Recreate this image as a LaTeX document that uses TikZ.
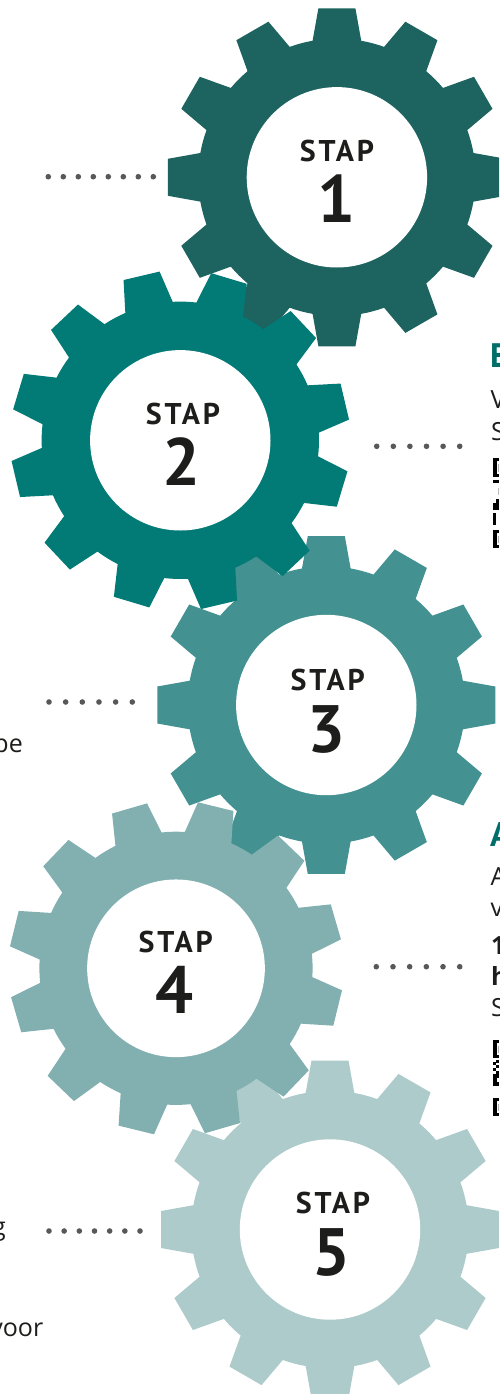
\documentclass[tikz,border=0pt]{standalone}
\usepackage{fontspec}
\setmainfont{Open Sans}
\newfontfamily\ptsans{PT Sans}
\definecolor{gearA}{HTML}{1D635F}
\definecolor{gearB}{HTML}{027A76}
\definecolor{gearC}{HTML}{439191}
\definecolor{gearD}{HTML}{82B0B0}
\definecolor{gearE}{HTML}{AECBCB}
\definecolor{ink}{HTML}{1D1D1B}
\definecolor{dotgrey}{HTML}{58585A}
\definecolor{headteal}{HTML}{006F6A}
\tikzset{
  staplabel/.style={anchor=base,inner sep=0pt,text=ink,font=\ptsans\bfseries\fontsize{30}{30}\selectfont\addfontfeature{LetterSpace=9}},
  stepnum/.style={anchor=base,inner sep=0pt,text=ink,font=\ptsans\bfseries\fontsize{67}{67}\selectfont},
  bodytext/.style={inner sep=0pt,text=ink,font=\fontsize{25}{25}\selectfont},
  bodyright/.style={bodytext,anchor=base east},
  bodyleft/.style={bodytext,anchor=base west},
  boldleft/.style={bodyleft,font=\bfseries\fontsize{25}{25}\selectfont},
  headleft/.style={anchor=base west,inner sep=0pt,text=headteal,font=\ptsans\bfseries\fontsize{34}{34}\selectfont},
}
% centre x, centre y, rotation, scale, colour
\newcommand{\gearshape}[5]{%
  \begin{scope}[shift={(#1,#2)},scale=#4]
    \fill[#5] (#3-10.1:138.7pt)
      foreach \a in {0,30,...,330} {
        -- (#3+\a-10.1:138.7pt) -- (#3+\a-6.25:170pt) -- (#3+\a+6.25:170pt) -- (#3+\a+10.1:138.7pt)
        arc[start angle=#3+\a+10.1,end angle=#3+\a+19.9,radius=138.7pt]
      } -- cycle;
    \fill[white] (0pt,0pt) circle[radius=90.2pt];
  \end{scope}}
% x first, x last, count, y
\newcommand{\dotrow}[4]{%
  \foreach \i in {1,...,#3} {
    \pgfmathsetmacro{\xx}{#1+(\i-1)*(#2-#1)/(#3-1)}
    \fill[dotgrey] (\xx,#4) circle[radius=2.8pt];
  }}
\begin{document}
\begin{tikzpicture}[x=1pt,y=-1pt]
\useasboundingbox (0,0) rectangle (499,1394);
\clip (0,0) rectangle (499,1394);
\fill[white] (0,0) rectangle (499,1394);

\gearshape{336.9}{177.3}{0}{1}{gearA}
\gearshape{326.3}{705}{0}{1}{gearC}
\gearshape{330}{1229.5}{0}{1}{gearE}
\gearshape{180.3}{440.3}{13.25}{1}{gearB}
\gearshape{176}{968.3}{16.2}{0.985}{gearD}

\node[staplabel] (s1) at (337,161) {STAP};
\node[stepnum] (n1) at (336,222.7) {1};
\node[staplabel] (s2) at (183,424) {STAP};
\node[stepnum] (n2) at (181,485.7) {2};
\node[staplabel] (s3) at (327.7,690.7) {STAP};
\node[stepnum] (n3) at (326,752) {3};
\node[staplabel] (s4) at (175.7,952.3) {STAP};
\node[stepnum] (n4) at (174,1013.3) {4};
\node[staplabel] (s5) at (333,1213.3) {STAP};
\node[stepnum] (n5) at (331,1275.7) {5};

\dotrow{48.3}{153.3}{8}{176.7}
\dotrow{376.7}{459.7}{6}{446.3}
\dotrow{49}{132.3}{6}{702}
\dotrow{376.3}{459.7}{6}{966.7}
\dotrow{49}{140}{7}{1231}

\node[bodyright] (tpe) at (23,752.5) {pe};
\node[bodyright] (tg) at (6,1235.5) {g};
\node[bodyright] (tvoor) at (43.5,1336) {voor};

\node[headleft] (he) at (490,367.3) {E};
\node[bodyleft] (tv1) at (490.5,408) {V};
\node[bodyleft] (ts1) at (491,440) {S};

\node[headleft] (ha) at (490,846.7) {A};
\node[bodyleft] (ta) at (490.5,885) {A};
\node[bodyleft] (tv2) at (490.5,916) {v};
\node[boldleft] (t1) at (491,954) {1};
\node[boldleft] (th) at (491,985) {h};
\node[bodyleft] (ts2) at (491,1016.7) {S};

% QR fragments, upper
\fill[black] (493.3,458) rectangle (499,477);
\fill[white] (496.6,461) rectangle (499,474);
\fill[black!30] (497.8,463.5) rectangle (499,471.5);
\fill[black] (493.3,480) rectangle (499,483);
\fill[black!25] (498,488) rectangle (499,495);
\fill[black] (496,499) rectangle (499,503);
\fill[black] (493.3,503) rectangle (499,510);
\fill[black] (493.3,513) rectangle (496,525);
\fill[black] (493.3,530) rectangle (499,548);
\fill[white] (496.6,533) rectangle (499,545);
\fill[black!30] (497.8,535.5) rectangle (499,542.5);
% QR fragments, lower
\fill[black] (493.3,1040) rectangle (499,1058);
\fill[white] (496.6,1043) rectangle (499,1055);
\fill[black!30] (497.8,1045.5) rectangle (499,1052.5);
\fill[black] (493.3,1062) rectangle (496,1065);
\fill[black] (496,1065) rectangle (499,1068);
\fill[black] (493.3,1068) rectangle (496,1071);
\fill[black] (496,1060) rectangle (499,1063);
\fill[black] (496,1071) rectangle (499,1074);
\fill[black] (493.3,1074) rectangle (499,1086);
\fill[white] (496.5,1078) rectangle (499,1082);
\fill[black] (493.3,1098) rectangle (499,1116);
\fill[white] (496.6,1101) rectangle (499,1113);
\fill[black!30] (497.8,1103.5) rectangle (499,1110.5);
\end{tikzpicture}
\end{document}
